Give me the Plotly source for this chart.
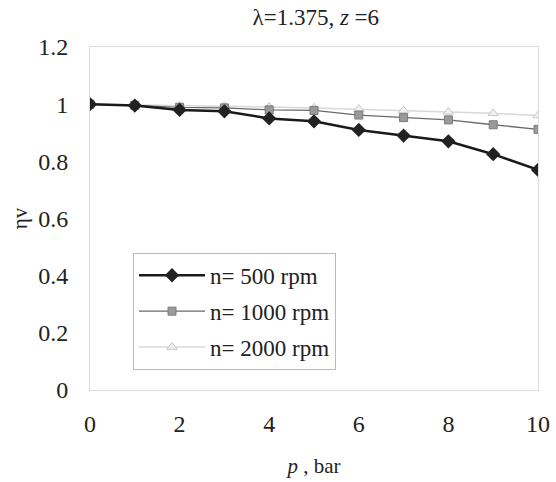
import plotly.graph_objects as go

p_bar = [0, 1, 2, 3, 4, 5, 6, 7, 8, 9, 10]
eta_500 = [1.0, 0.995, 0.98, 0.975, 0.95, 0.94, 0.91, 0.89, 0.87, 0.825, 0.77]
eta_1000 = [1.0, 0.996, 0.989, 0.987, 0.98, 0.978, 0.962, 0.953, 0.945, 0.928, 0.912]
eta_2000 = [1.0, 0.998, 0.995, 0.993, 0.99, 0.987, 0.983, 0.978, 0.973, 0.968, 0.96]
names = ["n= 500 rpm", "n= 1000 rpm", "n= 2000 rpm"]
y_ticks = [0, 0.2, 0.4, 0.6, 0.8, 1.0, 1.2]
y_ticktext = ["0", "0.2", "0.4", "0.6", "0.8", "1", "1.2"]
x_ticks = [0, 2, 4, 6, 8, 10]

FONT = "Liberation Serif"

fig = go.Figure()
fig.add_trace(go.Scatter(x=p_bar, y=eta_2000, name=names[2], mode="lines+markers",
                         legendgroup="c", legendrank=3,
                         line=dict(color="#d8d8d8", width=1.5),
                         marker=dict(symbol="triangle-up", size=9, color="#f0f0f0",
                                     line=dict(color="#c8c8c8", width=1))))
fig.add_trace(go.Scatter(x=p_bar, y=eta_1000, name=names[1], mode="lines+markers",
                         legendgroup="b", legendrank=2,
                         line=dict(color="#6a6a6a", width=1.3),
                         marker=dict(symbol="square", size=8, color="#9a9a9a",
                                     line=dict(color="#7a7a7a", width=1))))
fig.add_trace(go.Scatter(x=p_bar, y=eta_500, name=names[0], mode="lines+markers",
                         legendgroup="a", legendrank=1,
                         line=dict(color="#1a1a1a", width=2.5),
                         marker=dict(symbol="diamond", size=11, color="#222222")))

fig.update_layout(
    width=556, height=482,
    margin=dict(l=90, r=18, t=47, b=92),
    paper_bgcolor="white", plot_bgcolor="white",
    font=dict(family=FONT, size=24, color="#222"),
    title=dict(text="λ=1.375, <i>z</i> =6", x=0.568, xanchor="center",
               y=1 - 17 / 482, yanchor="middle",
               font=dict(size=23, family=FONT, color="#222")),
    showlegend=True,
    legend=dict(x=0.096, y=0.40, xanchor="left", yanchor="top",
                bgcolor="white", bordercolor="#bbbbbb", borderwidth=1,
                font=dict(size=23, family=FONT, color="#222"),
                itemwidth=66, tracegroupgap=3),
    xaxis=dict(range=[0, 10], tickvals=x_ticks, showgrid=False, zeroline=False,
               automargin=False,
               showline=True, linecolor="#dddddd", linewidth=1, mirror=True,
               ticks="", ticklabelstandoff=12,
               title=dict(text="<i>p</i> , bar", standoff=22, font=dict(size=21, family=FONT))),
    yaxis=dict(range=[0, 1.2], tickvals=y_ticks, ticktext=y_ticktext,
               showgrid=False, zeroline=False, automargin=False,
               showline=True, linecolor="#dddddd", linewidth=1, mirror=True,
               ticks="", ticklabelstandoff=16,
               title=dict(text="ηv", standoff=4, font=dict(size=21, family=FONT))),
)
fig.write_html("out.html", config={"displayModeBar": False},
               post_script="document.body.style.margin='0';document.body.style.overflow='hidden';")
